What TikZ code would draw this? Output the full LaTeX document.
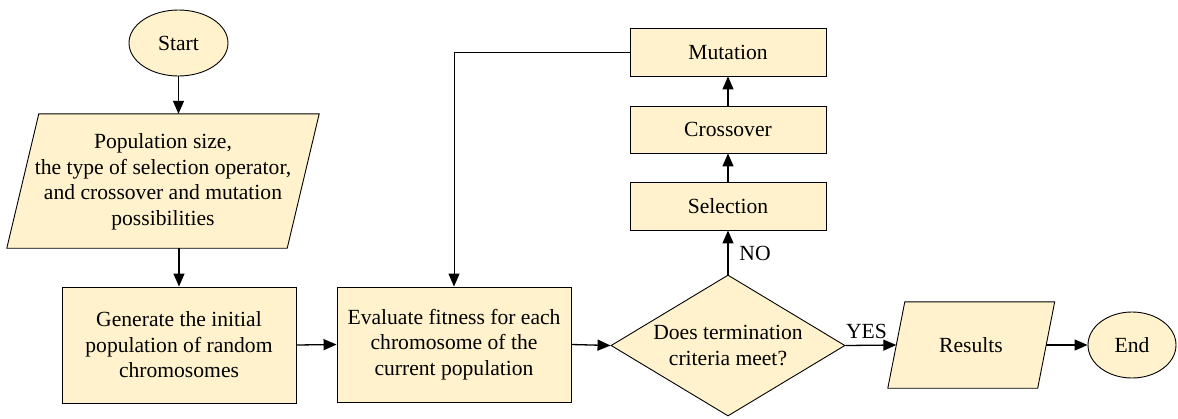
\documentclass[tikz,border=0pt]{standalone}
\usepackage{fontspec}
\newfontfamily\diagserif{LiberationSerif-Regular.ttf}
\usetikzlibrary{arrows.meta,shapes.geometric}
\definecolor{boxfill}{RGB}{255,242,204}
\tikzset{
  x=1pt, y=-1pt,
  txt/.style={font=\diagserif\fontsize{21.6}{25.5}\selectfont, align=center, inner sep=0pt},
  procbox/.style={txt, draw=black, fill=boxfill, line width=0.9pt},
  anchorbox/.style={txt, draw=none},
  term/.style={txt, ellipse, draw=black, fill=boxfill, line width=0.9pt},
  decis/.style={txt, diamond, draw=black, fill=boxfill, line width=0.9pt},
  shapeline/.style={draw=black, fill=boxfill, line width=0.9pt},
  arr/.style={line width=1.3pt, -{Triangle[length=13pt,width=11pt]}},
  lbl/.style={font=\diagserif\fontsize{21.6}{25}\selectfont, inner sep=0pt}
}
\begin{document}
\begin{tikzpicture}
\useasboundingbox (0,0) rectangle (1178,418);
% Start
\node[term, minimum width=99pt, minimum height=66pt] (start) at (178.5,43) {Start};
% Parameters parallelogram
\node[anchorbox, minimum width=280pt, minimum height=134pt] (para) at (163,181) {};
\path[shapeline] ([xshift=16pt]para.north west) -- ([xshift=16pt]para.north east) -- ([xshift=-16pt]para.south east) -- ([xshift=-16pt]para.south west) -- cycle;
\node[txt] (paratext) at (163,182) {Population size,\\the type of selection operator,\\and crossover and mutation\\possibilities};
% Generate
\node[procbox, minimum width=234pt, minimum height=116pt] (gen) at (179,345) {Generate the initial\\population of random\\chromosomes};
% Evaluate
\node[procbox, minimum width=234pt, minimum height=115pt] (eval) at (454,344.5) {Evaluate fitness for each\\chromosome of the\\current population};
% Decision
\node[decis, minimum width=234pt, minimum height=141pt, aspect=1.66, inner sep=0pt] (dec) at (728,345.5) {Does termination\\criteria meet?};
% Selection, Crossover, Mutation
\node[procbox, minimum width=196pt, minimum height=48pt] (sel) at (728,206) {Selection};
\node[procbox, minimum width=196pt, minimum height=47pt] (cross) at (728,129.5) {Crossover};
\node[procbox, minimum width=196pt, minimum height=48pt] (mut) at (728,52) {Mutation};
% Results parallelogram
\node[anchorbox, minimum width=149.5pt, minimum height=86pt] (res) at (971.25,345) {};
\path[shapeline] ([xshift=8.5pt]res.north west) -- ([xshift=8.5pt]res.north east) -- ([xshift=-8.5pt]res.south east) -- ([xshift=-8.5pt]res.south west) -- cycle;
\node[txt] (restext) at (971,345) {Results};
% End
\node[term, minimum width=88pt, minimum height=66pt] (end) at (1132,345) {End};
% Connectors
\draw[arr] (start.south) -- (start.south |- para.north);
\draw[arr] (gen.north |- para.south) -- (gen.north);
\draw[arr] (gen.east) -- (eval.west);
\draw[arr] (eval.east) -- (dec.west);
\draw[arr] (dec.north) -- (sel.south);
\draw[arr] (sel.north) -- (cross.south);
\draw[arr] (cross.north) -- (mut.south);
\coordinate (loopc) at (454,52);
\draw[arr, line width=1pt] (mut.west) -- (loopc) -- (eval.north);
\draw[arr] (dec.east) -- (res.west);
\draw[arr] (res.east) -- (end.west);
% Labels
\node[lbl] (nolbl) at (755,253) {NO};
\node[lbl] (yeslbl) at (866.5,331) {YES};
\end{tikzpicture}
\end{document}
